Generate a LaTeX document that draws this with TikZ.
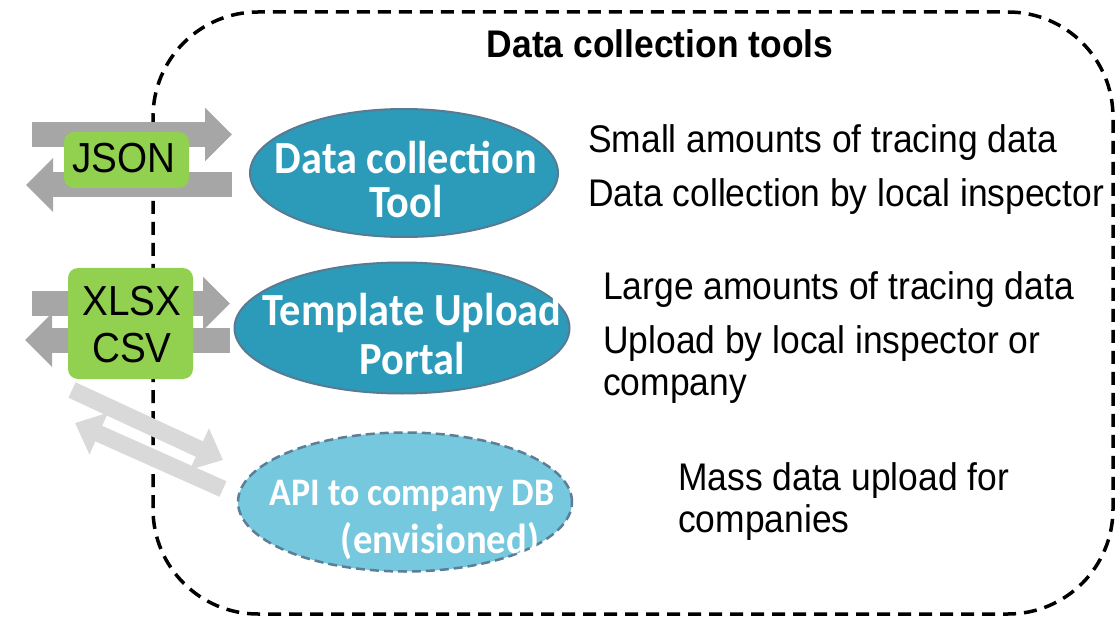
\documentclass[tikz,border=0pt]{standalone}
\usepackage{fontspec}
\setmainfont{Liberation Sans}[FakeStretch=0.92]
\newfontfamily\ellfont{Carlito}[FakeStretch=0.92]
\usepackage{tikz}
\usetikzlibrary{arrows.meta}
\usetikzlibrary{shapes.geometric}

\definecolor{toolblue}{RGB}{43,155,185}
\definecolor{toolline}{RGB}{88,122,146}
\definecolor{apiblue}{RGB}{117,200,222}
\definecolor{apiline}{RGB}{92,126,150}
\definecolor{fmtgreen}{RGB}{146,208,80}
\definecolor{flowgray}{RGB}{166,166,166}
\definecolor{flowlight}{RGB}{217,217,217}

\tikzset{
	container/.style={draw=black, line width=3.5pt, dash pattern=on 13pt off 8pt, rounded corners=105pt},
	fmtbox/.style={rectangle, fill=fmtgreen, rounded corners=10pt, minimum width=125pt, inner sep=0pt},
	flow/.style={draw=flowgray, line width=25pt, -{Triangle[length=27pt, width=52pt]}},
	flowapi/.style={draw=flowlight, line width=17pt, -{Triangle[length=26pt, width=44pt]}},
	tool/.style={ellipse, fill=toolblue, draw=toolline, line width=2pt, inner sep=0pt},
	api/.style={ellipse, fill=apiblue, draw=apiline, line width=2.5pt, dash pattern=on 9pt off 5pt, inner sep=0pt},
	tooltext/.style={anchor=base, text=white, inner sep=0pt, font={\ellfont\bfseries\fontsize{46}{46}\selectfont}},
	apitext/.style={anchor=base, text=white, inner sep=0pt, font={\ellfont\bfseries\fontsize{39}{39}\selectfont}},
	fmttext/.style={anchor=base, inner sep=0pt, font={\fontsize{42}{42}\selectfont}},
	note/.style={anchor=base west, inner sep=0pt, font={\fontsize{38.5}{38.5}\selectfont}}
}

\begin{document}
\begin{tikzpicture}[x=1pt, y=-1pt]
	\useasboundingbox (0,0) rectangle (1116,620);

	% Container
	\draw[container] (153,12) rectangle (1113,614);
	\node (Title) [anchor=base, inner sep=0pt, font={\bfseries\fontsize{38.5}{38.5}\selectfont}] at (660,58) {Data collection tools};

	% Tools
	\node (DCT) [tool, minimum width=308pt, minimum height=128pt] at (404,173) {};
	\node (TUP) [tool, minimum width=335pt, minimum height=131pt] at (402,328) {};
	\node (API) [api, minimum width=334pt, minimum height=139pt] at (405,502) {};

	% Exchange arrows
	\coordinate (JSONoutA) at (32,134.5);
	\coordinate (JSONoutB) at (232,134.5);
	\coordinate (JSONinA) at (232,185);
	\coordinate (JSONinB) at (26,185);
	\coordinate (XLSXoutA) at (32,303.5);
	\coordinate (XLSXoutB) at (230,303.5);
	\coordinate (XLSXinA) at (230,340);
	\coordinate (XLSXinB) at (25,340);
	\coordinate (APIoutA) at (72,390);
	\coordinate (APIoutB) at (223,460);
	\coordinate (APIinA) at (223,489);
	\coordinate (APIinB) at (75,423);

	\draw[flow] (JSONoutA) -- (JSONoutB);
	\draw[flow] (JSONinA) -- (JSONinB);
	\draw[flow] (XLSXoutA) -- (XLSXoutB);
	\draw[flow] (XLSXinA) -- (XLSXinB);
	\draw[flowapi] (APIoutA) -- (APIoutB);
	\draw[flowapi] (APIinA) -- (APIinB);

	% Formats
	\node (JSON) [fmtbox, minimum height=56pt] at (126.5,160) {};
	\node (XLSX) [fmtbox, minimum height=111pt] at (130.5,323.5) {};
	\node (JSONa) [fmttext] at (124,173) {JSON};
	\node (XLSXa) [fmttext] at (132,315) {XLSX};
	\node (XLSXb) [fmttext] at (132,362) {CSV};

	% Tool labels
	\node (DCTa) [tooltext] at (406,174) {Data collection};
	\node (DCTb) [tooltext] at (406,218) {Tool};
	\node (TUPa) [tooltext] at (412,325) {Template Upload};
	\node (TUPb) [tooltext] at (412,374) {Portal};
	\node (APIa) [apitext] at (412,505) {API to company DB};
	\node (APIb) [apitext, font={\ellfont\bfseries\fontsize{42}{42}\selectfont}] at (440,553) {(envisioned)};

	% Notes
	\node (DCTn1) [note] at (588,153) {Small amounts of tracing data};
	\node (DCTn2) [note] at (588,207) {Data collection by local inspector};
	\node (TUPn1) [note] at (603,299) {Large amounts of tracing data};
	\node (TUPn2) [note] at (603,353) {Upload by local inspector or};
	\node (TUPn3) [note] at (603,395) {company};
	\node (APIn1) [note] at (678,490) {Mass data upload for};
	\node (APIn2) [note] at (678,532) {companies};

\end{tikzpicture}
\end{document}
